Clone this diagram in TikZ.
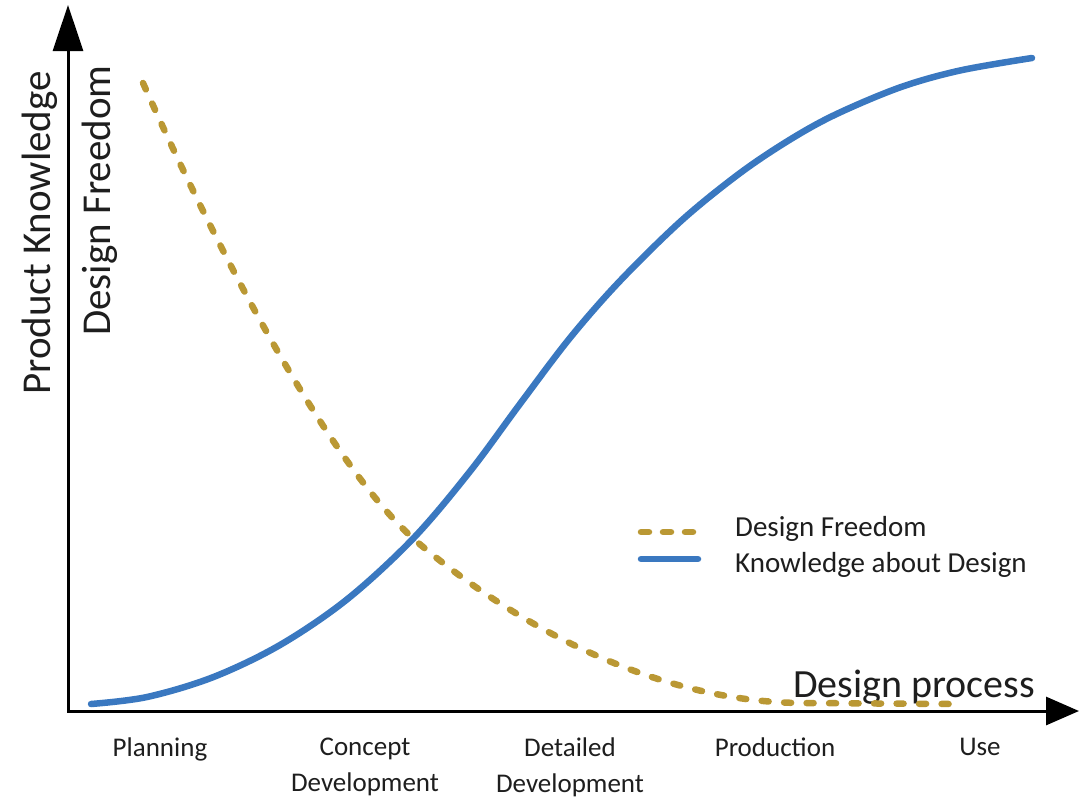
\documentclass[tikz,border=0pt]{standalone}
\usepackage{fontspec}
\setmainfont{Carlito}
\usetikzlibrary{arrows.meta}
\definecolor{kblue}{RGB}{58,120,192}
\definecolor{fgold}{RGB}{186,152,52}
\definecolor{txt}{RGB}{30,30,30}
\begin{document}
\begin{tikzpicture}[x=1pt,y=-1pt,
  axisline/.style={line width=3pt, black, line join=miter},
  knowline/.style={line width=6.5pt, kblue, line cap=round},
  freeline/.style={line width=6.5pt, fgold, line cap=round, dash pattern=on 7pt off 15.5pt},
  axlabel/.style={inner sep=0pt, text=txt, font=\fontsize{41}{48}\selectfont},
  phaselabel/.style={inner sep=0pt, text=txt, align=center, font=\fontsize{27}{36}\selectfont},
  legtext/.style={inner sep=0pt, text=txt, anchor=base west, font=\fontsize{29}{34}\selectfont}]
\useasboundingbox (0,0) rectangle (1079,801);
\coordinate (O) at (68,711);
\coordinate (Ytip) at (68,5);
\coordinate (Xtip) at (1079,711);
\draw[axisline, {Triangle[width=30pt,length=46pt]}-{Triangle[width=28pt,length=33pt]}] (Ytip) -- (O) -- (Xtip);
% axis labels
\node[axlabel, rotate=90, anchor=base west] (pk) at (50,395) {Product Knowledge};
\node[axlabel, rotate=90, anchor=base west] (df) at (110,336) {Design Freedom};
\node[axlabel, anchor=base west, font=\fontsize{40}{46}\selectfont] (dp) at (793,697) {Design process};
% phases
\node[phaselabel, anchor=north] (plan) at (160,738) {Planning};
\node[phaselabel, anchor=north] (conc) at (365,738) {Concept\\Development};
\node[phaselabel, anchor=north] (det) at (570,738) {Detailed\\Development};
\node[phaselabel, anchor=north] (prod) at (775,738) {Production};
\node[phaselabel, anchor=north] (use) at (980,738) {Use};
% curves
\coordinate (fs) at (143,83);
\coordinate (cx) at (416,541);
\coordinate (fm) at (800,703);
\coordinate (fe) at (957,704);
\draw[freeline] (fs) .. controls (215,245) and (327,463) .. (cx)
  .. controls (504,616) and (645,701) .. (fm) -- (fe);
\draw[knowline] plot[smooth, tension=0.55] coordinates {(91,704) (147,697) (213,677.2) (280,645) (347,599.4) (413,538.7) (470,471.4) (520,403.9) (570,337.9) (620,280.9) (682,220.1) (740,173.1) (790,139.6) (836,114.3) (900,87.4) (960,70.5) (1032,58)};
% legend
\coordinate (l1a) at (641,532);
\coordinate (l1b) at (695,532);
\coordinate (l2a) at (641,559);
\coordinate (l2b) at (698,559);
\draw[freeline, dash pattern=on 8pt off 14pt] (l1a) -- (l1b);
\draw[knowline] (l2a) -- (l2b);
\node[legtext] (leg1) at (735,536) {Design Freedom};
\node[legtext] (leg2) at (735,572) {Knowledge about Design};
\end{tikzpicture}
\end{document}
